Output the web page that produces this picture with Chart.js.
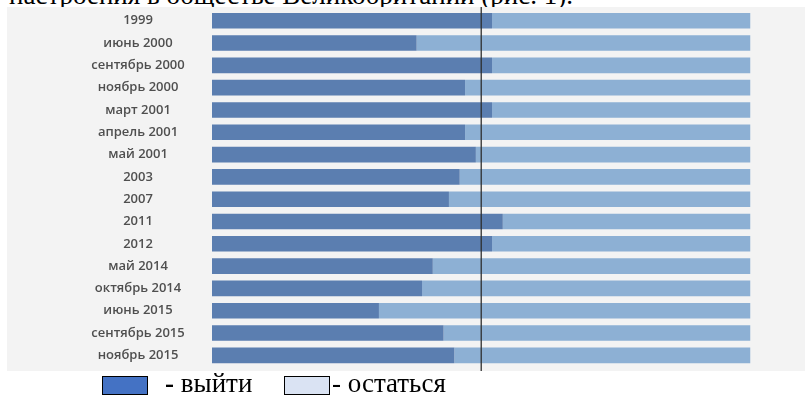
<!DOCTYPE html>
<html>
<head>
<meta charset="utf-8">
<script src="https://cdn.jsdelivr.net/npm/chart.js@4.4.1/dist/chart.umd.min.js"></script>
<style>
  body { margin: 0; width: 805px; height: 397px; background: #fff; position: relative; overflow: hidden; font-family: "Liberation Serif", "Times New Roman", serif; }
  #caption { position: absolute; right: 232px; top: -18px; white-space: nowrap; font-size: 27px; line-height: 27px; color: #000; }
  #box { position: absolute; left: 7px; top: 7px; width: 798px; height: 364px; background: #f3f3f3; }
  #box canvas { display: block; }
  .lg-box { position: absolute; top: 376px; width: 46px; height: 19px; box-sizing: border-box; border: 1.5px solid #000; }
  .lg-text { position: absolute; top: 370px; font-size: 27px; line-height: 27px; white-space: nowrap; color: #000; }
</style>
</head>
<body>
<div id="caption">настроения в обществе Великобритании (рис. 1).</div>
<div id="box"><canvas id="chart" width="798" height="364"></canvas></div>
<div class="lg-box" style="left:102px; background:#4472c4;"></div>
<span class="lg-text" style="left:165px;"><b>-</b> выйти</span>
<div class="lg-box" style="left:284px; background:#dae3f3;"></div>
<span class="lg-text" style="left:332px;">- остаться</span>

<script>
// poll dates
const labels = [
  '1999', 'июнь 2000', 'сентябрь 2000', 'ноябрь 2000', 'март 2001',
  'апрель 2001', 'май 2001', '2003', '2007', '2011', '2012',
  'май 2014', 'октябрь 2014', 'июнь 2015', 'сентябрь 2015', 'ноябрь 2015'
];
// share (%) who want to leave / remain
const leave  = [52, 38, 52, 47, 52, 47, 49, 46, 44, 54, 52, 41, 39, 31, 43, 45];
const remain = [48, 62, 48, 53, 48, 53, 51, 54, 56, 46, 48, 59, 61, 69, 57, 55];
const midline = 50;

const tickFont = { family: "'Open Sans'", weight: '600', size: 13 };

// centre the labels at page x = 138 (canvas x = 131)
const ctx = document.getElementById('chart').getContext('2d');
ctx.font = '600 13px "Open Sans"';
const widest = Math.max(...labels.map(l => ctx.measureText(l).width));
const axisWidth = 205;
const labelPadding = axisWidth - 131 - widest / 2;

const midlinePlugin = {
  id: 'midline',
  afterDatasetsDraw(chart) {
    const x = chart.scales.x.getPixelForValue(midline);
    const c = chart.ctx;
    c.save();
    c.strokeStyle = 'rgba(45,45,45,0.85)';
    c.lineWidth = 1.5;
    c.beginPath();
    c.moveTo(x, 0);
    c.lineTo(x, chart.height);
    c.stroke();
    c.restore();
  }
};

new Chart(ctx, {
  type: 'bar',
  data: {
    labels: labels,
    datasets: [
      {
        label: 'выйти',
        data: leave,
        backgroundColor: '#5b7eb0',
        barPercentage: 0.7,
        categoryPercentage: 1,
      },
      {
        label: 'остаться',
        data: remain,
        backgroundColor: '#8db0d4',
        barPercentage: 0.7,
        categoryPercentage: 1,
      },
    ],
  },
  options: {
    indexAxis: 'y',
    responsive: false,
    devicePixelRatio: 1,
    animation: false,
    layout: { padding: { top: 2.6, bottom: 4.5, right: 54.5, left: 0 } },
    scales: {
      x: {
        display: false,
        stacked: true,
        min: 0,
        max: 100,
      },
      y: {
        stacked: true,
        border: { display: false },
        grid: { display: false, drawTicks: false },
        ticks: {
          color: '#4f4f4f',
          font: tickFont,
          crossAlign: 'center',
          padding: labelPadding,
        },
        afterFit: (scale) => {
          scale.width = axisWidth;
          scale.paddingTop = 0;
          scale.paddingBottom = 0;
        },
      },
    },
    plugins: {
      legend: { display: false },
      tooltip: { enabled: false },
    },
  },
  plugins: [midlinePlugin],
});
</script>
</body>
</html>
